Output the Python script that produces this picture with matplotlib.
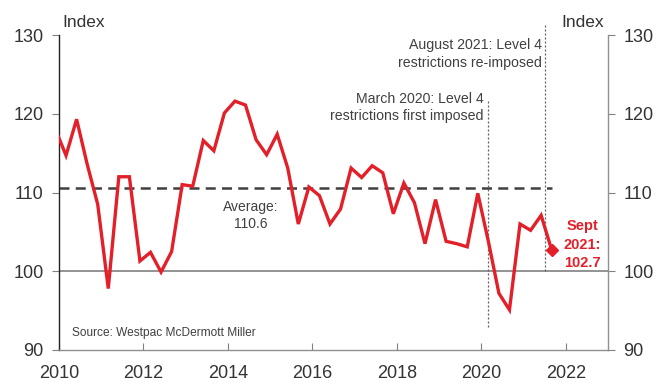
import matplotlib
matplotlib.use("Agg")
import matplotlib.pyplot as plt
import numpy as np

plt.rcParams['font.family'] = ['Liberation Sans', 'DejaVu Sans']

# Quarterly consumer confidence index (Dec 2009 .. Sep 2021)
start_year, start_month = 2009, 12
values = [118.0,
          114.7, 119.3, 113.6, 108.5,
          97.8, 112.0, 112.0, 101.3,
          102.4, 99.9, 102.5, 111.0,
          110.8, 116.6, 115.3, 120.1,
          121.6, 121.1, 116.7, 114.8,
          117.4, 113.1, 106.0, 110.7,
          109.6, 106.0, 107.9, 113.1,
          111.9, 113.4, 112.5, 107.3,
          111.2, 108.7, 103.5, 109.1,
          103.8, 103.5, 103.1, 109.9,
          103.8, 97.2, 95.1, 106.0,
          105.2, 107.1, 102.7]
average = 110.6
latest_label = "Sept\n2021:\n102.7"
event_x = [2020 + 2/12, 2021.5]
event_labels = ["March 2020: Level 4\nrestrictions first imposed",
                "August 2021: Level 4\nrestrictions re-imposed"]
xticks = [2010, 2012, 2014, 2016, 2018, 2020, 2022]
yticks = [90, 100, 110, 120, 130]

months = [start_month + 3 * i for i in range(len(values))]
x = np.array([start_year + (m - 1) / 12 for m in months])
y = np.array(values)

RED = '#E3202A'
GREY = '#404040'
TXT = '#333333'

fig = plt.figure(figsize=(6.68, 3.81), dpi=100)
ax = fig.add_axes([59/668, 31/381, 549/668, 315/381])
ax.set_xlim(2010, 2023)
ax.set_ylim(90, 130)

ax.axhline(100, color='#808080', lw=1.2, zorder=1)
ax.plot([2010, x[-1]], [average, average], color='#404040', lw=1.8,
        dashes=(4, 2.5), zorder=2)

# event lines
ax.plot([event_x[0]]*2, [92.9, 121.8], color='#606060', lw=0.9,
        ls=(0, (1.6, 1.6)), zorder=2)
ax.plot([event_x[1]]*2, [100, 131.3], color='#606060', lw=0.9,
        ls=(0, (1.6, 1.6)), zorder=2, clip_on=False)

ax.plot(x, y, color=RED, lw=2.4, zorder=3, solid_joinstyle='miter')
ax.plot(x[-1], y[-1], marker='D', color=RED, ms=6.5, zorder=4)

ax.set_xticks(xticks)
ax.set_yticks(yticks)
ax.tick_params(axis='x', direction='in', length=5, labelsize=13,
               labelcolor=TXT, pad=11, width=0.8, color='#808080')
ax.tick_params(axis='y', direction='out', length=5, labelsize=13,
               labelcolor=TXT, left=True, right=True, labelleft=True,
               labelright=True, width=0.8, pad=6, color='#808080')

ax.spines['top'].set_visible(False)
ax.spines['left'].set_color('#222222')
ax.spines['right'].set_color('#909090')
ax.spines['bottom'].set_color('#909090')
for s in ['left', 'right', 'bottom']:
    ax.spines[s].set_linewidth(1.0)

ax.text(0.007, 1.015, "Index", transform=ax.transAxes, ha='left',
        va='bottom', fontsize=12.5, color=TXT)
ax.text(0.993, 1.015, "Index", transform=ax.transAxes, ha='right',
        va='bottom', fontsize=12.5, color=TXT)

ax.text(2014.53, 109.0, "Average:\n110.6", ha='center', va='top',
        fontsize=10, color=GREY, linespacing=1.2)
ax.text(2020.05, 118.8, event_labels[0], ha='right', va='bottom',
        fontsize=10.2, color=GREY, linespacing=1.3, multialignment='right')
ax.text(2021.43, 125.6, event_labels[1], ha='right', va='bottom',
        fontsize=10.2, color=GREY, linespacing=1.3, multialignment='right')
ax.text(2022.4, 106.6, latest_label, ha='center', va='top',
        fontsize=10.5, color=RED, fontweight='bold', linespacing=1.4)
ax.text(2010.3, 91.4, "Source: Westpac McDermott Miller", ha='left',
        va='bottom', fontsize=8.6, color=GREY)

fig.savefig("out.png", dpi=100)
